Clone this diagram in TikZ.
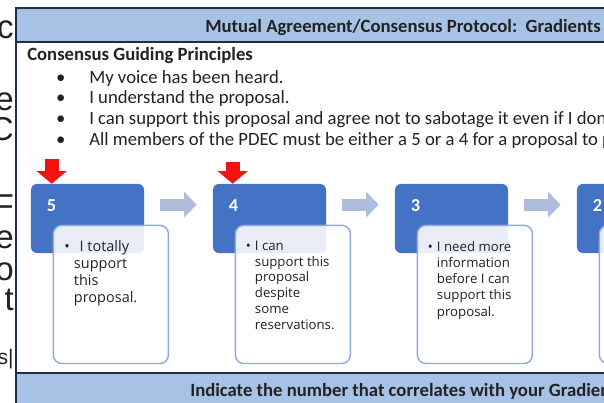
\documentclass[tikz,border=0pt]{standalone}
\usepackage{fontspec}
\setmainfont{Carlito}
\newfontfamily\boxfont{Open Sans}
\newfontfamily\backfont{Liberation Sans}
\usetikzlibrary{arrows.meta,positioning,calc}
\definecolor{hdblue}{HTML}{A6C3E5}
\definecolor{frnavy}{HTML}{1F2C4C}
\definecolor{stblue}{HTML}{4472C4}
\definecolor{bxline}{HTML}{8FAADC}
\definecolor{flgray}{HTML}{AFBDDD}
\definecolor{mkred}{HTML}{F21212}
\definecolor{txdark}{HTML}{222222}
\newcommand{\bul}{\llap{\textbullet\hspace{17pt}}}
\newcommand{\bx}{\llap{\textbullet\hspace{3pt}}}

\begin{document}
\begin{tikzpicture}[x=0.025cm,y=-0.025cm,
  stepbox/.style={rectangle,rounded corners=4.3pt,fill=stblue,inner sep=0pt,
                  minimum width=80.4pt,minimum height=49.1pt},
  infobox/.style={rectangle,rounded corners=6pt,draw=bxline,line width=1pt,
                  fill=white,fill opacity=0.88,inner sep=0pt,anchor=north west,
                  minimum width=81.8pt,minimum height=98.2pt},
  infotxt/.style={anchor=north west,inner sep=0pt,align=left,text=txdark},
  numlbl/.style={anchor=base west,inner sep=0pt,text=white,
                 font=\bfseries\fontsize{13}{15}\selectfont},
  bodytxt/.style={anchor=base west,inner sep=0pt,text=txdark,
                  font=\fontsize{13.3}{16}\selectfont},
  bartxt/.style={anchor=base west,inner sep=0pt,text=txdark,
                 font=\bfseries\fontsize{13.3}{16}\selectfont},
  backtxt/.style={anchor=base east,inner sep=0pt,text=txdark,
                  font=\backfont\fontsize{23.5}{28}\selectfont},
  downarr/.style={mkred,line width=10pt,-{Triangle[width=21pt,length=9pt]}},
  flowarr/.style={flgray,line width=8.5pt,-{Triangle[width=18pt,length=9pt]}}
]
\useasboundingbox (0,0) rectangle (604,402);
\clip (0,0) rectangle (604,402);

% ---- Slide behind (cut off at the left) ---------------------
\node[backtxt] (f1) at (14,38)  {c};
\node[backtxt] (f2) at (14,110) {e};
\node[backtxt] (f3) at (14,140) {C};
\node[backtxt] (f4) at (14,217) {F};
\node[backtxt] (f5) at (14,248) {e};
\node[backtxt] (f6) at (14,280) {o};
\node[backtxt] (f7) at (14,310) {t};
\node[backtxt,font=\backfont\fontsize{15}{18}\selectfont] (f8) at (14,364) {s|};

% ---- Frame and bars ----------------------------------------
\fill[hdblue] (16,8) rectangle (610,42);
\fill[hdblue] (16,373) rectangle (610,410);
\draw[frnavy,line width=1.2pt] (16,42) -- (610,42);
\draw[frnavy,line width=1.2pt] (16,373) -- (610,373);
\draw[frnavy,line width=1.6pt] (16,410) -- (16,8) -- (610,8);

\node[bartxt] (ttl) at (205,32)
  {Mutual Agreement/Consensus Protocol:\ \ Gradients};
\node[bartxt] (ftr) at (190,396)
  {Indicate the number that correlates with your Gradient};

% ---- Guiding principles ------------------------------------
\node[bartxt] (cgp) at (27,60) {Consensus Guiding Principles};
\node[bodytxt] (p1) at (89,83)  {\bul My voice has been heard.};
\node[bodytxt] (p2) at (89,103) {\bul I understand the proposal.};
\node[bodytxt] (p3) at (89,124)
  {\bul I can support this proposal and agree not to sabotage it even if I don't};
\node[bodytxt] (p4) at (89,145)
  {\bul All members of the PDEC must be either a 5 or a 4 for a proposal to pass};

% ---- Gradient steps ----------------------------------------
\node[stepbox] (n5) at (87.5,218.5) {};
\node[stepbox] (n4) at (269.5,218.5) {};
\node[stepbox] (n3) at (451.5,218.5) {};
\node[stepbox] (n2) at (633.5,218.5) {};

\node[numlbl] (l5) at ($(n5.north west)+(16,28)$) {5};
\node[numlbl] (l4) at ($(n4.north west)+(16,28)$) {4};
\node[numlbl] (l3) at ($(n3.north west)+(16,28)$) {3};
\node[numlbl] (l2) at ($(n2.north west)+(16,28)$) {2};

\node[infobox] (w5) at ($(n5.north west)+(22,41)$) {};
\node[infobox] (w4) at ($(n4.north west)+(22,41)$) {};
\node[infobox] (w3) at ($(n3.north west)+(22,41)$) {};
\node[infobox] (w2) at ($(n2.north west)+(22,41)$) {};

\node[infotxt,font=\boxfont\fontsize{10.3}{12}\selectfont]
  (t5) at ($(w5.north west)+(21,16)$)
  {\bx\hspace{4pt}I totally\\support\\this\\proposal.};
\node[infotxt,font=\boxfont\fontsize{9.4}{11.2}\selectfont]
  (t4) at ($(w4.north west)+(20,16)$)
  {\bx I can\\support this\\proposal\\despite\\some\\reservations.};
\node[infotxt,font=\boxfont\fontsize{9.4}{11.6}\selectfont]
  (t3) at ($(w3.north west)+(20,16)$)
  {\bx I need more\\information\\before I can\\support this\\proposal.};

% ---- Arrows ------------------------------------------------
\draw[flowarr] ($(n5.north east)+(16,21)$) -- ($(n4.north west)+(-16,21)$);
\draw[flowarr] ($(n4.north east)+(16,21)$) -- ($(n3.north west)+(-16,21)$);
\draw[flowarr] ($(n3.north east)+(16,21)$) -- ($(n2.north west)+(-16,21)$);

\draw[downarr] ($(n5.north west)+(21,-25)$) -- ($(n5.north west)+(21,0)$);
\draw[downarr] ($(n4.north west)+(20,-22)$) -- ($(n4.north west)+(20,0)$);

\end{tikzpicture}
\end{document}
